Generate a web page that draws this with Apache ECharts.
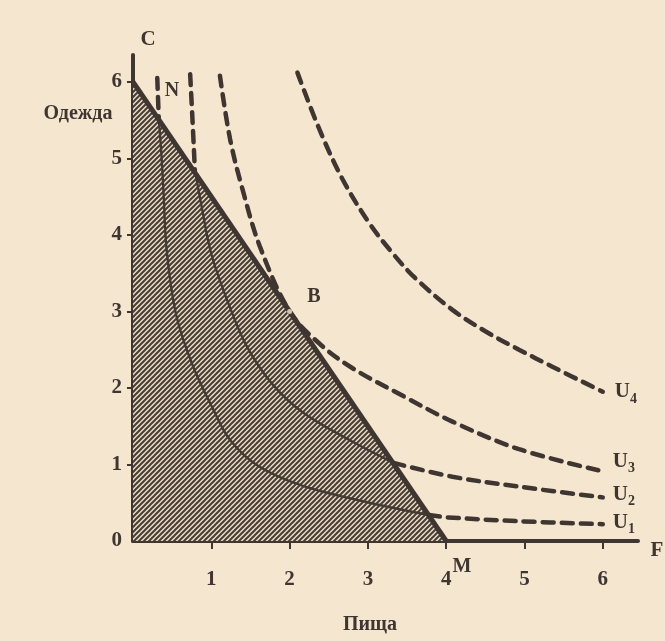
<!DOCTYPE html>
<html>
<head>
<meta charset="utf-8">
<script src="https://cdn.jsdelivr.net/npm/echarts@6/dist/echarts.min.js"></script>
<style>
html, body { margin: 0; padding: 0; background: #f5e6cf; }
#main { width: 665px; height: 641px; }
</style>
</head>
<body>
<div id="main"></div>
<script>
// budget line C-M and the tangency point B
var budgetX = [0, 4];
var budgetY = [6, 0];
var pointB = [2, 3];

// U1: short piece above N, solid part inside the set, dashed tail
var u1TopX = [0.31, 0.33];
var u1TopY = [6.05, 5.5];
var u1InX = [0.33, 0.36, 0.39, 0.43, 0.55, 0.76, 1.02, 1.24, 1.6, 2.17, 3.02, 3.78];
var u1InY = [5.50, 5.10, 4.55, 3.80, 2.96, 2.30, 1.73, 1.32, 0.98, 0.72, 0.50, 0.34];
var u1OutX = [3.78, 4.0, 4.9, 6.0];
var u1OutY = [0.34, 0.31, 0.26, 0.22];

// U2
var u2TopX = [0.73, 0.76, 0.79];
var u2TopY = [6.1, 5.5, 4.85];
var u2InX = [0.79, 0.88, 1.0, 1.22, 1.45, 1.78, 2.17, 2.80, 3.33];
var u2InY = [4.85, 4.35, 3.75, 3.10, 2.55, 2.05, 1.68, 1.30, 1.02];
var u2OutX = [3.33, 4.08, 4.93, 6.0];
var u2OutY = [1.02, 0.84, 0.71, 0.57];

// U3 (touches the budget line at B)
var u3X = [1.11, 1.24, 1.40, 1.62, 2.0, 2.38, 2.80, 3.44, 4.08, 4.93, 6.0];
var u3Y = [6.08, 5.25, 4.59, 3.85, 3.0, 2.58, 2.26, 1.90, 1.56, 1.20, 0.91];

// U4
var u4X = [2.10, 2.38, 2.68, 3.02, 3.30, 3.60, 4.08, 4.50, 4.93, 5.35, 6.0];
var u4Y = [6.12, 5.38, 4.72, 4.15, 3.78, 3.44, 3.02, 2.74, 2.50, 2.28, 1.95];

var xTicks = [1, 2, 3, 4, 5, 6];
var yTicks = [0, 1, 2, 3, 4, 5, 6];

var ink = '#3f3631';
var paper = '#f5e6cf';
var serif = '"Liberation Serif", "DejaVu Serif", serif';

function pts(xs, ys) {
    return xs.map(function (x, i) { return [x, ys[i]]; });
}

function hatch() {
    var c = document.createElement('canvas');
    c.width = 5; c.height = 5;
    var g = c.getContext('2d');
    g.fillStyle = '#ecdcc3';
    g.fillRect(0, 0, 5, 5);
    g.strokeStyle = '#463d37';
    g.lineWidth = 2;
    g.beginPath();
    g.moveTo(0, 5); g.lineTo(5, 0);
    g.moveTo(-1, 1); g.lineTo(1, -1);
    g.moveTo(4, 6); g.lineTo(6, 4);
    g.stroke();
    return c;
}

var subRich = {
    u: { fontFamily: serif, fontWeight: 'bold', fontSize: 21, color: ink },
    s: { fontFamily: serif, fontWeight: 'bold', fontSize: 14, color: ink, padding: [15, 0, 0, 0] }
};

function solid(data) {
    return {
        type: 'line', data: data, symbol: 'none', smooth: 0.35,
        lineStyle: { color: '#433a34', width: 2.4 }, z: 3, silent: true
    };
}

function dashed(data, label, offset, dist) {
    var s = {
        type: 'line', data: data, symbol: 'none', smooth: 0.35,
        lineStyle: { color: ink, width: 4.5, type: [11, 8], cap: 'round' }, z: 3, silent: true
    };
    if (label) {
        s.endLabel = {
            show: true, formatter: '{u|U}{s|' + label + '}', offset: offset, distance: dist, rich: subRich
        };
    }
    return s;
}

var myChart = echarts.init(document.getElementById('main'));
var option = {
    backgroundColor: paper,
    animation: false,
    grid: { left: 133, right: 27, top: 55, bottom: 100 },
    xAxis: {
        type: 'value', min: 0, max: 6.45,
        splitLine: { show: false },
        axisLine: { lineStyle: { color: ink, width: 4 } },
        axisTick: { customValues: xTicks, length: 8, lineStyle: { color: ink, width: 2 } },
        axisLabel: { customValues: xTicks, margin: 28, color: ink, fontFamily: serif, fontWeight: 'bold', fontSize: 21 }
    },
    yAxis: {
        type: 'value', min: 0, max: 6.35,
        splitLine: { show: false },
        axisLine: { lineStyle: { color: ink, width: 4 } },
        axisTick: { customValues: [1, 2, 3, 4, 5, 6], length: 6, lineStyle: { color: ink, width: 2 } },
        axisLabel: { customValues: yTicks, margin: 11, color: ink, fontFamily: serif, fontWeight: 'bold', fontSize: 21 }
    },
    series: [
        {
            type: 'line', data: pts(budgetX, budgetY), symbol: 'none', z: 1, silent: true,
            lineStyle: { width: 0 },
            areaStyle: { color: { image: hatch(), repeat: 'repeat' }, opacity: 1 }
        },
        solid(pts(u1InX, u1InY)),
        dashed(pts(u1TopX, u1TopY)),
        dashed(pts(u1OutX, u1OutY), '1', [0, -2], 10),
        solid(pts(u2InX, u2InY)),
        dashed(pts(u2TopX, u2TopY)),
        dashed(pts(u2OutX, u2OutY), '2', [0, -3], 10),
        dashed(pts(u3X, u3Y), '3', [0, -10], 10),
        dashed(pts(u4X, u4Y), '4', [0, 0], 12),
        {
            type: 'line', data: pts(budgetX, budgetY), symbol: 'none', z: 5, silent: true,
            lineStyle: { color: ink, width: 5 }
        },
        {
            type: 'scatter', data: [pointB], symbolSize: 5, z: 6, silent: true,
            itemStyle: { color: paper }
        }
    ],
    graphic: [
        { type: 'text', x: 148, y: 40, style: { text: 'C', font: 'bold 21px ' + serif, fill: ink, align: 'center', verticalAlign: 'middle' } },
        { type: 'text', x: 172, y: 91, style: { text: 'N', font: 'bold 20px ' + serif, fill: ink, align: 'center', verticalAlign: 'middle' } },
        { type: 'text', x: 314, y: 297, style: { text: 'B', font: 'bold 20px ' + serif, fill: ink, align: 'center', verticalAlign: 'middle' } },
        { type: 'text', x: 462, y: 567, style: { text: 'M', font: 'bold 20px ' + serif, fill: ink, align: 'center', verticalAlign: 'middle' } },
        { type: 'text', x: 657, y: 551, style: { text: 'F', font: 'bold 21px ' + serif, fill: ink, align: 'center', verticalAlign: 'middle' } },
        { type: 'text', x: 78, y: 114, style: { text: 'Одежда', font: 'bold 20px ' + serif, fill: ink, align: 'center', verticalAlign: 'middle' } },
        { type: 'text', x: 370, y: 625, style: { text: 'Пища', font: 'bold 20px ' + serif, fill: ink, align: 'center', verticalAlign: 'middle' } }
    ]
};
myChart.setOption(option);
</script>
</body>
</html>
